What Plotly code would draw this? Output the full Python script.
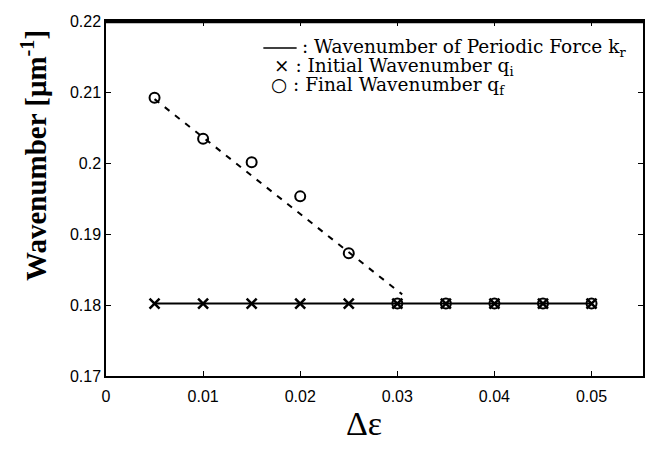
import plotly.graph_objects as go

delta_eps = [0.005, 0.010, 0.015, 0.020, 0.025, 0.030, 0.035, 0.040, 0.045, 0.050]
k_r = [0.1802] * 10
q_i = [0.1802, 0.1802, 0.1802, 0.1802, 0.1802, 0.1802, 0.1802, 0.1802, 0.1802, 0.1802]
q_f = [0.2092, 0.2034, 0.2001, 0.1953, 0.1873, 0.1802, 0.1802, 0.1802, 0.1802, 0.1802]
fit_x = [0.005, 0.0305]
fit_y = [0.2090, 0.1815]

x_ticks = [0, 0.01, 0.02, 0.03, 0.04, 0.05]
x_ticklabels = ["0", "0.01", "0.02", "0.03", "0.04", "0.05"]
y_ticks = [0.17, 0.18, 0.19, 0.20, 0.21, 0.22]
y_ticklabels = ["0.17", "0.18", "0.19", "0.2", "0.21", "0.22"]

fig = go.Figure()
fig.add_trace(go.Scatter(x=fit_x, y=fit_y, mode="lines",
                         line=dict(color="black", width=2, dash="6px,7px"), showlegend=False))
fig.add_trace(go.Scatter(x=delta_eps, y=k_r, mode="lines",
                         line=dict(color="black", width=2), showlegend=False))
fig.add_trace(go.Scatter(x=delta_eps, y=q_i, mode="markers",
                         marker=dict(symbol="x-thin-open", size=10, color="black",
                                     line=dict(color="black", width=2.5)),
                         showlegend=False))
fig.add_trace(go.Scatter(x=delta_eps, y=q_f, mode="markers",
                         marker=dict(symbol="circle-open", size=10, color="black",
                                     line=dict(color="black", width=2)),
                         showlegend=False))

serif = "Liberation Serif, Times New Roman, serif"
legend_font = dict(family="DejaVu Serif, serif", size=18.5, color="black")

# top frame line and legend line sample
fig.add_shape(type="line", xref="paper", yref="paper", x0=0, x1=1, y0=0.997, y1=0.997,
              line=dict(color="black", width=2.5), layer="above")
fig.add_shape(type="line", xref="paper", yref="paper", x0=0.293, x1=0.355, y0=0.924, y1=0.924,
              line=dict(color="black", width=1.5))

fig.add_annotation(x=0.3615, y=0.924, xref="paper", yref="paper", xanchor="left", yanchor="middle",
                   text=": Wavenumber of Periodic Force k<sub>r</sub>", showarrow=False, font=legend_font)
fig.add_annotation(x=0.309, y=0.870, xref="paper", yref="paper", xanchor="left", yanchor="middle",
                   text="\u00d7 : Initial Wavenumber q<sub>i</sub>", showarrow=False, font=legend_font)
fig.add_annotation(x=0.303, y=0.817, xref="paper", yref="paper", xanchor="left", yanchor="middle",
                   text="\u25cb : Final Wavenumber q<sub>f</sub>", showarrow=False, font=legend_font)

fig.add_annotation(x=-0.134, y=0.62, xref="paper", yref="paper", xanchor="center", yanchor="middle",
                   text="<b>Wavenumber [\u03bcm<sup>-1</sup>]</b>", textangle=-90, showarrow=False,
                   font=dict(family=serif, size=29, color="black"))
fig.add_annotation(x=0.481, y=-0.135, xref="paper", yref="paper", xanchor="center", yanchor="middle",
                   text="\u0394\u03b5", showarrow=False,
                   font=dict(family=serif, size=34, color="black"))

axis_common = dict(showline=True, linecolor="black", linewidth=1.5, mirror="ticks",
                   ticks="inside", ticklen=5, tickwidth=1.2, tickcolor="black",
                   showgrid=False, zeroline=False,
                   tickfont=dict(family="Liberation Sans, Arial, sans-serif", size=16, color="black"))
fig.update_xaxes(range=[0, 0.0553], tickvals=x_ticks, ticktext=x_ticklabels,
                 ticklabelstandoff=5, **axis_common)
fig.update_yaxes(range=[0.17, 0.22], tickvals=y_ticks, ticktext=y_ticklabels, **axis_common)

fig.update_layout(width=645, height=452, margin=dict(l=106, r=0, t=21, b=76),
                  paper_bgcolor="white", plot_bgcolor="white", showlegend=False)
fig.write_html("out.html", config={"displayModeBar": False},
               post_script="document.body.style.margin='0px';")
